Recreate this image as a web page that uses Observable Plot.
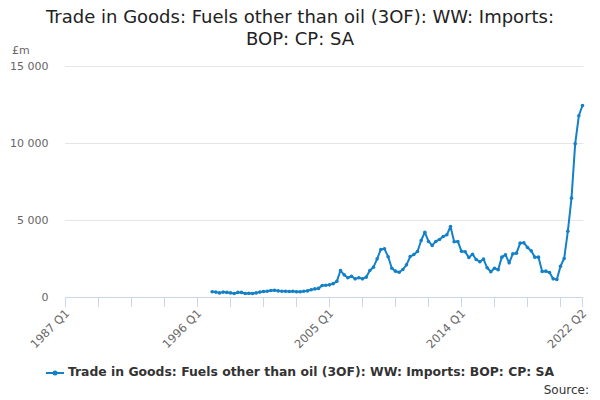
<!DOCTYPE html>
<html><head><meta charset="utf-8">
<script src="https://cdn.jsdelivr.net/npm/d3@7"></script>
<script src="https://cdn.jsdelivr.net/npm/@observablehq/plot@0.6"></script>
<style>
body{margin:0;width:600px;height:400px;position:relative;overflow:hidden;font-family:"DejaVu Sans",sans-serif;background:#fff}
#title{position:absolute;top:6px;left:0;width:600px;text-align:center;font-size:18px;line-height:22px;color:#222}
#unit{position:absolute;left:12px;top:44px;font-size:11px;color:#666}
#chart{position:absolute;left:0;top:40px}
#legend{position:absolute;top:364px;left:0;width:600px;text-align:center;font-size:12.4px;font-weight:bold;color:#333}
#source{position:absolute;right:11px;top:383px;font-size:12px;color:#333}
</style></head><body>
<div id="title">Trade in Goods: Fuels other than oil (3OF): WW: Imports:<br>BOP: CP: SA</div>
<div id="unit">£m</div>
<div id="chart"></div>
<div id="legend"><svg width="18" height="10" style="vertical-align:middle;margin-right:4px"><line x1="0" x2="18" y1="5" y2="5" stroke="#1380c7" stroke-width="2"/><circle cx="9" cy="5" r="2.5" fill="#1380c7"/></svg>Trade in Goods: Fuels other than oil (3OF): WW: Imports: BOP: CP: SA</div>
<div id="source">Source:</div>
<script>
const seriesName = "Trade in Goods: Fuels other than oil (3OF): WW: Imports: BOP: CP: SA";
const axisStart = {year: 1987, quarter: 1};
const axisEnd = {year: 2022, quarter: 2};
const dataStart = {year: 1997, quarter: 1};
const values = [
  370, 350, 300, 350, 330, 300, 260, 330, 330, 260,
  280, 260, 300, 350, 390, 410, 450, 470, 430, 410,
  410, 390, 410, 370, 370, 410, 430, 500, 560, 590,
  780, 800, 820, 900, 1050, 1750, 1470, 1280, 1380, 1210,
  1280, 1210, 1320, 1750, 1970, 2510, 3120, 3160, 2650, 1900,
  1710, 1640, 1820, 2120, 2660, 2790, 2990, 3700, 4240, 3640,
  3380, 3640, 3770, 3960, 4070, 4610, 3620, 3640, 3000, 2970,
  2600, 2810, 2470, 2320, 2490, 1930, 1670, 1900, 1800, 2620,
  2770, 2250, 2840, 2880, 3530, 3550, 3250, 3030, 2620, 2620,
  1690, 1710, 1620, 1210, 1170, 2030, 2530, 4300, 6450, 9980,
  11800, 12470
];
const yTicks = [0, 5000, 10000, 15000];
const xLabelTicks = ["1987 Q1", "1996 Q1", "2005 Q1", "2014 Q1", "2022 Q2"];

const qIndex = (y, q) => (y - axisStart.year) * 4 + (q - axisStart.quarter);
const qLabel = i => `${axisStart.year + Math.floor(i / 4)} Q${(i % 4) + 1}`;
const lastIndex = qIndex(axisEnd.year, axisEnd.quarter);
const firstData = qIndex(dataStart.year, dataStart.quarter);
const data = values.map((v, k) => ({i: firstData + k, label: qLabel(firstData + k), value: v}));
const labelIdx = xLabelTicks.map(s => { const [y, q] = s.split(" Q").map(Number); return qIndex(y, q); });
const minorTicks = d3.range(0, lastIndex, 9).concat([lastIndex]);
const fmt = v => d3.format(",")(v).replace(/,/g, " ");
const color = "#1380c7";

const chart = Plot.plot({
  width: 600, height: 315,
  marginLeft: 65, marginRight: 18, marginTop: 26, marginBottom: 58,
  style: {fontFamily: "DejaVu Sans, sans-serif", fontSize: "11px", color: "#666", background: "transparent"},
  x: {domain: [0, lastIndex]},
  y: {domain: [0, 15000], axis: null},
  marks: [
    Plot.gridY(yTicks, {stroke: "#e6e6e6", strokeOpacity: 1, x1: 0, x2: lastIndex + 0.4}),
    Plot.text(yTicks, {x: 0, y: d => d, text: fmt, textAnchor: "end", dx: -17, fill: "#666", fontSize: 11}),
    Plot.ruleY([0], {stroke: "#ccd6eb", strokeWidth: 1}),
    Plot.axisX(minorTicks, {tickSize: 10, tickFormat: () => "", stroke: "#ccd6eb", strokeOpacity: 1, label: null}),
    Plot.text(labelIdx, {x: d => d, y: 0, text: (d, k) => xLabelTicks[k], rotate: -45, textAnchor: "end", dx: 2, dy: 14, fill: "#666", fontSize: 11.5}),
    Plot.line(data, {x: "i", y: "value", stroke: color, strokeWidth: 2}),
    Plot.dot(data, {x: "i", y: "value", fill: color, r: 1.8, title: d => `${d.label}: ${d.value}`})
  ]
});
document.getElementById("chart").appendChild(chart);
</script>
</body></html>
